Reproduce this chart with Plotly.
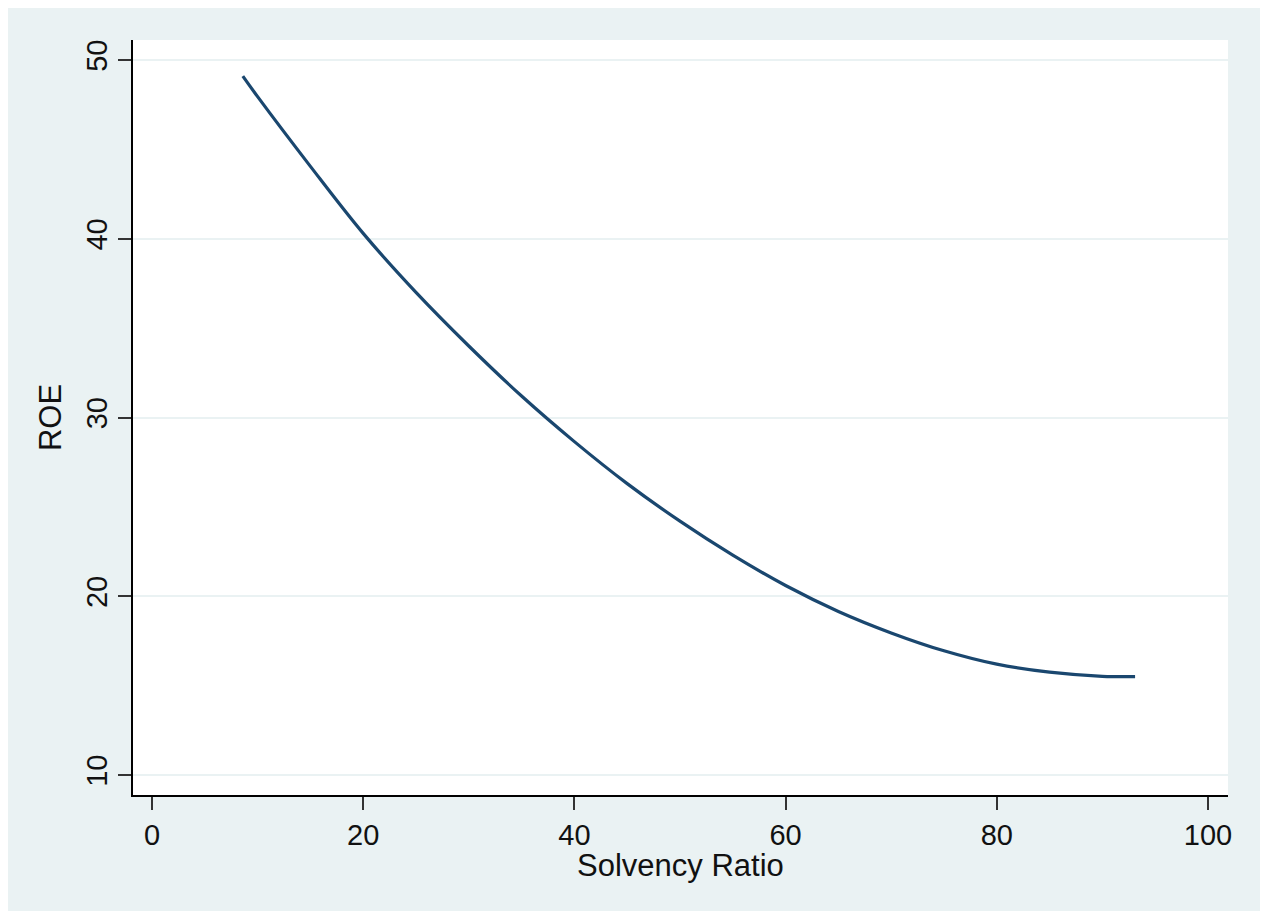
import plotly.graph_objects as go

# Fitted ROE against solvency ratio
solvency_ratio = [8.6, 10, 15, 20, 25, 30, 35, 40, 45, 50, 55, 60, 65, 70, 75, 80, 85, 90, 93.1]
roe = [49.1, 47.95, 44.05, 40.3, 37.0, 34.0, 31.2, 28.65, 26.3, 24.2, 22.3, 20.6,
       19.15, 17.95, 16.95, 16.2, 15.75, 15.52, 15.5]

x_ticks = [0, 20, 40, 60, 80, 100]
y_ticks = [10, 20, 30, 40, 50]

W, H = 1264, 913
L, R, T, B = 133, 36, 40, 118
BG = "#eaf2f3"
LINE = "#1a476f"
FONT = "Liberation Sans, Arial, sans-serif"

fig = go.Figure()
fig.add_trace(go.Scatter(
    x=solvency_ratio, y=roe, mode="lines",
    line=dict(color=LINE, width=3.2, shape="spline", smoothing=1),
    showlegend=False, hoverinfo="skip",
))

pw = W - L - R
ph = H - T - B


def px_x(p):
    return (p - L) / pw


def px_y(p):
    return (H - B - p) / ph


# Thin white border round the graph region (top, left, right, bottom)
border = [
    (0, W, 0, 8),
    (0, 8, 0, H),
    (1260, W, 0, H),
    (0, W, 911, H),
]
for x0, x1, y0, y1 in border:
    fig.add_shape(type="rect", xref="paper", yref="paper", layer="below",
                  x0=px_x(x0), x1=px_x(x1), y0=px_y(y1), y1=px_y(y0),
                  fillcolor="white", line=dict(width=0))

# x-axis title placed just under the tick labels
fig.add_annotation(text="Solvency Ratio", xref="paper", yref="paper",
                   x=0.5, y=px_y(865), xanchor="center", yanchor="middle",
                   showarrow=False, font=dict(size=31))

fig.update_layout(
    width=W, height=H,
    margin=dict(l=L, r=R, t=T, b=B, pad=0),
    paper_bgcolor=BG,
    plot_bgcolor="white",
    font=dict(family=FONT, size=29, color="#111111"),
    xaxis=dict(
        range=[-1.8, 101.9], tickvals=x_ticks, ticktext=[str(v) for v in x_ticks],
        showgrid=False, zeroline=False,
        showline=True, linecolor="black", linewidth=1.5,
        ticks="outside", ticklen=13, tickwidth=1.5, tickcolor="#333333",
        tickfont=dict(size=29),
    ),
    yaxis=dict(
        range=[8.88, 51.12], tickvals=y_ticks, ticktext=[str(v) for v in y_ticks],
        showgrid=True, gridcolor=BG, gridwidth=2, zeroline=False,
        showline=True, linecolor="black", linewidth=1.5,
        ticks="outside", ticklen=13, tickwidth=1.5, tickcolor="#333333",
        tickangle=-90, tickfont=dict(size=29),
        title=dict(text="ROE", font=dict(size=31), standoff=10),
    ),
)

fig.write_html("out.html")
